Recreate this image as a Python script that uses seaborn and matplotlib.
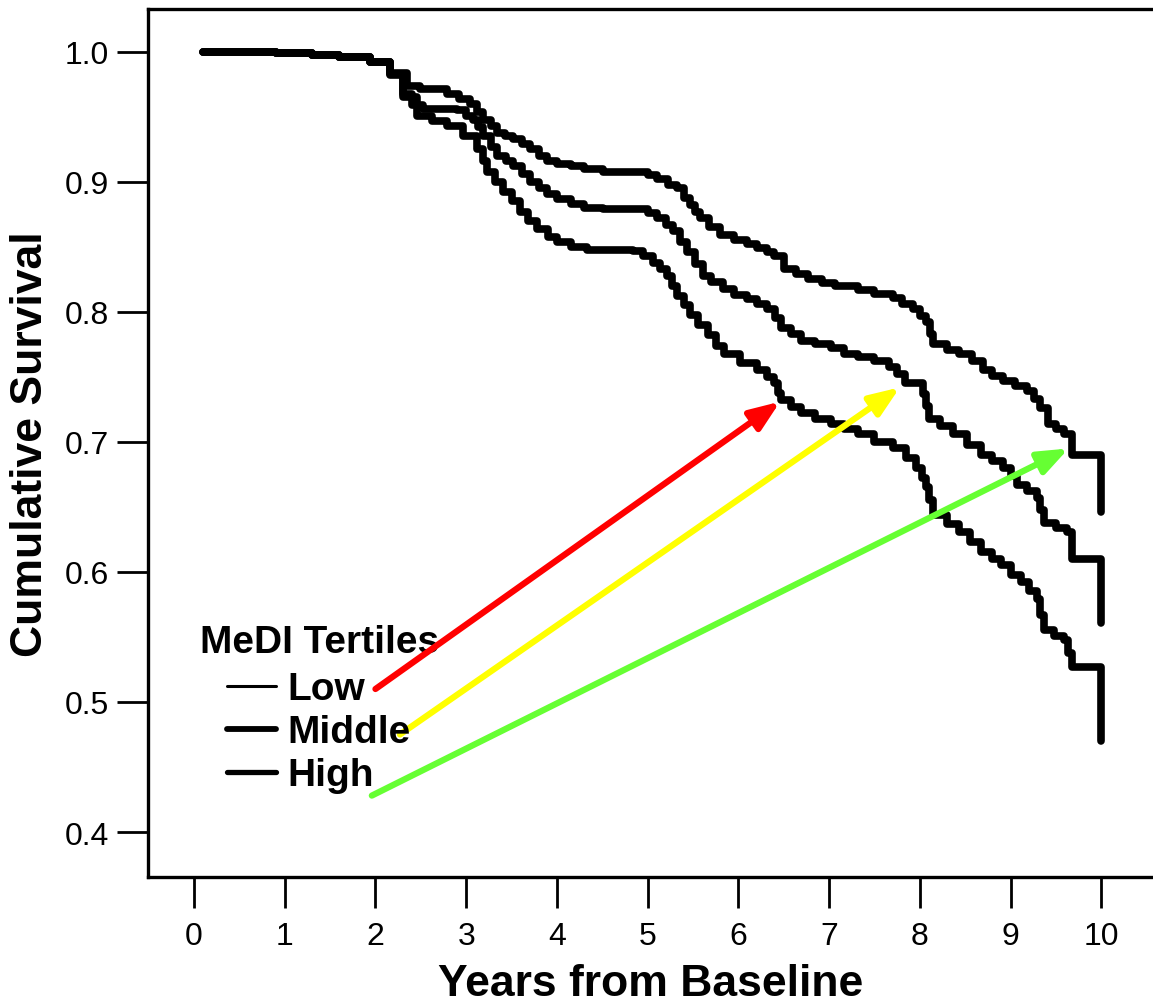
import numpy as np
import pandas as pd
import matplotlib
matplotlib.use("Agg")
import matplotlib.pyplot as plt
from matplotlib.lines import Line2D
import seaborn as sns

# ---- data (Kaplan-Meier step curves) ----
low_years = [0.1, 0.9, 1.3, 1.6, 1.94, 2.16, 2.3, 2.46, 2.62, 2.79, 2.97, 3.12, 3.18, 3.23,
             3.32, 3.41, 3.5, 3.59, 3.68, 3.78, 3.9, 4.0, 4.15, 4.33, 4.84, 4.95, 5.06, 5.14,
             5.21, 5.27, 5.32, 5.4, 5.47, 5.56, 5.66, 5.75, 5.84, 6.02, 6.21, 6.32, 6.39,
             6.44, 6.47, 6.58, 6.69, 6.85, 7.02, 7.16, 7.32, 7.5, 7.7, 7.85, 7.96, 8.02, 8.07,
             8.1, 8.14, 8.3, 8.43, 8.55, 8.67, 8.8, 8.89, 9.0, 9.11, 9.2, 9.29, 9.33, 9.37,
             9.48, 9.59, 9.63, 9.68, 10.0]
low_surv = [1.0, 0.999, 0.998, 0.996, 0.992, 0.982, 0.965, 0.951, 0.947, 0.943, 0.935, 0.925,
            0.916, 0.908, 0.900, 0.892, 0.885, 0.877, 0.870, 0.864, 0.858, 0.854, 0.850, 0.848,
            0.847, 0.843, 0.838, 0.833, 0.828, 0.820, 0.812, 0.805, 0.798, 0.790, 0.782, 0.774,
            0.768, 0.761, 0.755, 0.750, 0.745, 0.738, 0.732, 0.727, 0.722, 0.718, 0.714, 0.710,
            0.706, 0.700, 0.695, 0.688, 0.680, 0.672, 0.665, 0.655, 0.644, 0.637, 0.631, 0.623,
            0.615, 0.610, 0.605, 0.598, 0.592, 0.585, 0.579, 0.567, 0.555, 0.551, 0.548, 0.538,
            0.527, 0.470]

mid_years = [0.1, 0.9, 1.3, 1.6, 1.94, 2.16, 2.3, 2.4, 2.52, 2.9, 3.0, 3.08, 3.13, 3.19, 3.27,
             3.34, 3.44, 3.52, 3.62, 3.7, 3.8, 3.89, 4.0, 4.15, 4.3, 4.51, 4.88, 5.0, 5.1, 5.2,
             5.28, 5.36, 5.43, 5.52, 5.61, 5.7, 5.83, 5.95, 6.1, 6.21, 6.32, 6.4, 6.47, 6.58,
             6.69, 6.85, 7.02, 7.16, 7.32, 7.5, 7.66, 7.75, 7.84, 8.03, 8.07, 8.1, 8.22, 8.37,
             8.52, 8.67, 8.8, 8.92, 9.0, 9.07, 9.18, 9.29, 9.33, 9.37, 9.5, 9.62, 9.68, 10.0]
mid_surv = [1.0, 0.999, 0.998, 0.996, 0.992, 0.983, 0.968, 0.959, 0.956, 0.955, 0.951, 0.948,
            0.942, 0.935, 0.927, 0.920, 0.916, 0.912, 0.906, 0.900, 0.895, 0.891, 0.887, 0.883,
            0.880, 0.879, 0.879, 0.876, 0.872, 0.867, 0.862, 0.854, 0.846, 0.837, 0.828, 0.823,
            0.818, 0.813, 0.810, 0.806, 0.802, 0.795, 0.788, 0.783, 0.778, 0.775, 0.772, 0.768,
            0.765, 0.762, 0.758, 0.752, 0.745, 0.737, 0.728, 0.718, 0.712, 0.706, 0.698, 0.690,
            0.685, 0.680, 0.674, 0.667, 0.662, 0.657, 0.648, 0.638, 0.634, 0.631, 0.610, 0.561]

high_years = [0.1, 0.9, 1.3, 1.6, 1.94, 2.16, 2.35, 2.49, 2.79, 2.92, 3.04, 3.12, 3.19, 3.27,
              3.34, 3.43, 3.52, 3.61, 3.7, 3.8, 3.89, 4.0, 4.15, 4.3, 4.51, 4.88, 5.0, 5.1,
              5.22, 5.32, 5.4, 5.47, 5.52, 5.58, 5.68, 5.8, 5.95, 6.1, 6.21, 6.32, 6.39, 6.5,
              6.63, 6.77, 6.92, 7.07, 7.32, 7.5, 7.7, 7.8, 7.92, 8.0, 8.07, 8.11, 8.14, 8.3,
              8.43, 8.57, 8.7, 8.8, 8.92, 9.05, 9.18, 9.26, 9.33, 9.41, 9.5, 9.59, 9.68, 10.0]
high_surv = [1.0, 0.999, 0.998, 0.996, 0.992, 0.984, 0.974, 0.9715, 0.968, 0.964, 0.960, 0.954,
             0.948, 0.943, 0.938, 0.935, 0.933, 0.929, 0.925, 0.920, 0.916, 0.914, 0.912, 0.910,
             0.908, 0.908, 0.905, 0.902, 0.898, 0.895, 0.888, 0.882, 0.877, 0.872, 0.865, 0.859,
             0.855, 0.852, 0.849, 0.846, 0.843, 0.833, 0.829, 0.825, 0.822, 0.820, 0.817, 0.814,
             0.811, 0.806, 0.802, 0.797, 0.792, 0.783, 0.775, 0.771, 0.768, 0.762, 0.755, 0.751,
             0.747, 0.743, 0.739, 0.733, 0.726, 0.714, 0.710, 0.706, 0.690, 0.646]

groups = ["Low", "Middle", "High"]
x_ticks = list(range(0, 11))
y_ticks = [0.4, 0.5, 0.6, 0.7, 0.8, 0.9, 1.0]

df = pd.concat([
    pd.DataFrame({"Years": low_years, "Survival": low_surv, "Tertile": "Low"}),
    pd.DataFrame({"Years": mid_years, "Survival": mid_surv, "Tertile": "Middle"}),
    pd.DataFrame({"Years": high_years, "Survival": high_surv, "Tertile": "High"}),
], ignore_index=True)

# ---- styling ----
sns.set_theme(style="white")
plt.rcParams["font.family"] = ["Liberation Sans", "DejaVu Sans"]
plt.rcParams["text.color"] = "black"
plt.rcParams["axes.labelcolor"] = "black"

fig = plt.figure(figsize=(11.53, 10.03), dpi=100)
ax = fig.add_axes([148 / 1153, 125 / 1003, 1 - 148 / 1153, (1003 - 10 - 125) / 1003])

sns.lineplot(data=df, x="Years", y="Survival", hue="Tertile", hue_order=groups,
             palette=["black", "black", "black"], estimator=None, sort=True,
             drawstyle="steps-post", linewidth=5.5, legend=False, ax=ax)

ax.set_xlim(-0.507, 10.57)
ax.set_ylim(0.3654, 1.033)
ax.set_xticks(x_ticks)
ax.set_xticklabels([str(t) for t in x_ticks])
ax.set_yticks(y_ticks)
ax.set_yticklabels([f"{t:.1f}" for t in y_ticks])

ax.tick_params(axis="both", which="major", direction="out", length=22, width=2,
               color="black", labelsize=23, labelcolor="black")
ax.tick_params(axis="y", pad=6)
ax.tick_params(axis="x", pad=10)
ax.tick_params(left=True, bottom=True)

for side in ["left", "top", "bottom"]:
    ax.spines[side].set_visible(True)
    ax.spines[side].set_color("black")
    ax.spines[side].set_linewidth(2.4)
ax.spines["right"].set_visible(False)

ax.set_xlabel("Years from Baseline", fontsize=32, fontweight="bold", labelpad=8, color="black")
ax.set_ylabel("Cumulative Survival", fontsize=32, fontweight="bold", labelpad=10, color="black")

# ---- legend ----
handles = [Line2D([0], [0], color="black", lw=2.2),
           Line2D([0], [0], color="black", lw=4.2),
           Line2D([0], [0], color="black", lw=3.8)]
leg = ax.legend(handles, groups, loc="upper left", bbox_to_anchor=(0.0786, 0.237),
                frameon=False, borderpad=0, borderaxespad=0, handlelength=1.25,
                handletextpad=0.3, labelspacing=0.18, labelcolor="black",
                prop={"size": 28, "weight": "bold", "family": "Liberation Sans"})
ax.text(0.0517, 0.259, "MeDI Tertiles", transform=ax.transAxes, fontsize=28,
        fontweight="bold", ha="left", va="baseline", color="black")

# ---- colored arrows from legend entries to curves ----
arrow_specs = [
    ("#ff0000", (2.00, 0.510), (6.46, 0.731)),
    ("#ffff00", (2.27, 0.475), (7.78, 0.742)),
    ("#66ff33", (1.96, 0.428), (9.64, 0.695)),
]
for color, start, end in arrow_specs:
    ax.annotate("", xy=end, xytext=start,
                arrowprops=dict(arrowstyle="-|>,head_length=0.9,head_width=0.35",
                                color=color, lw=4.5, mutation_scale=20,
                                shrinkA=0, shrinkB=0))

fig.savefig("out.png", dpi=100, facecolor="white")
